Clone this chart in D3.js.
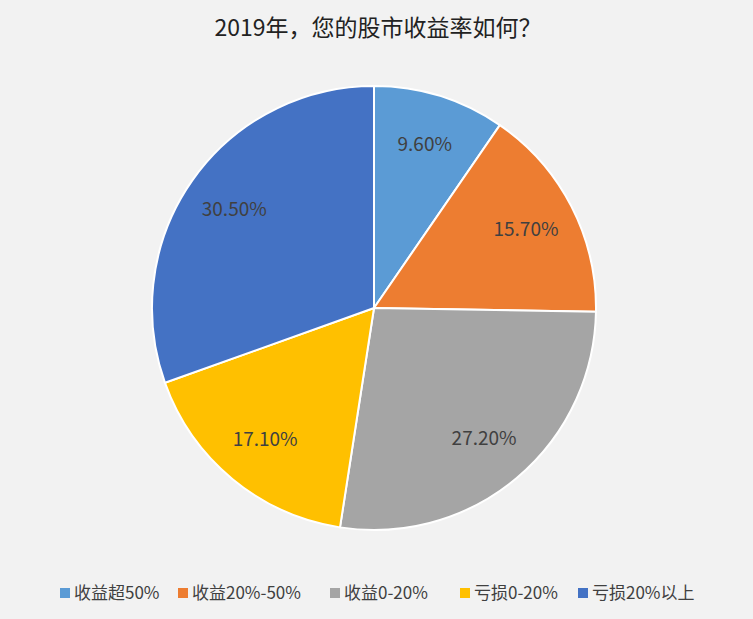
<!DOCTYPE html>
<html>
<head>
<meta charset="utf-8">
<script src="https://cdn.jsdelivr.net/npm/d3@7"></script>
<style>
  body { margin: 0; background: #f2f2f2; }
  text { font-family: "Microsoft YaHei", "Noto Sans CJK SC", sans-serif; }
</style>
</head>
<body>
<svg width="753" height="619"></svg>
<script>
// data
var categories = ['收益超50%', '收益20%-50%', '收益0-20%', '亏损0-20%', '亏损20%以上'];
var values = [9.6, 15.7, 27.2, 17.1, 30.5];
var colors = ['#5B9BD5', '#ED7D31', '#A5A5A5', '#FFC000', '#4472C4'];

var svg = d3.select('svg');
svg.append('rect').attr('width', 753).attr('height', 619).attr('fill', '#f2f2f2');
var cx = 374, cy = 308, r = 222;

svg.append('text')
  .attr('x', 378).attr('y', 36)
  .attr('text-anchor', 'middle')
  .attr('font-size', 23).attr('fill', '#222')
  .text('2019年，您的股市收益率如何？');

var pie = d3.pie().sort(null).value(function(d){ return d; });
var arc = d3.arc().innerRadius(0).outerRadius(r);
var labelArc = d3.arc().innerRadius(r * 0.77).outerRadius(r * 0.77);

var g = svg.append('g').attr('transform', 'translate(' + cx + ',' + cy + ')');
var arcs = pie(values);

g.selectAll('path').data(arcs).enter().append('path')
  .attr('d', arc)
  .attr('fill', function(d, i){ return colors[i]; })
  .attr('stroke', '#fff').attr('stroke-width', 2);

g.selectAll('text.lbl').data(arcs).enter().append('text')
  .attr('class', 'lbl')
  .attr('transform', function(d){ return 'translate(' + labelArc.centroid(d) + ')'; })
  .attr('text-anchor', 'middle').attr('dy', '0.35em')
  .attr('font-size', 19).attr('fill', '#404040')
  .text(function(d){ return d.data.toFixed(2) + '%'; });

// legend
var lx = [60, 178, 330, 460, 578];
var leg = svg.selectAll('g.leg').data(categories).enter().append('g')
  .attr('class', 'leg')
  .attr('transform', function(d, i){ return 'translate(' + lx[i] + ',593)'; });
leg.append('rect').attr('x', 0).attr('y', -5).attr('width', 10).attr('height', 10)
  .attr('fill', function(d, i){ return colors[i]; });
leg.append('text').attr('x', 14).attr('dy', '0.35em')
  .attr('font-size', 17).attr('fill', '#404040')
  .text(function(d){ return d; });
</script>
</body>
</html>
